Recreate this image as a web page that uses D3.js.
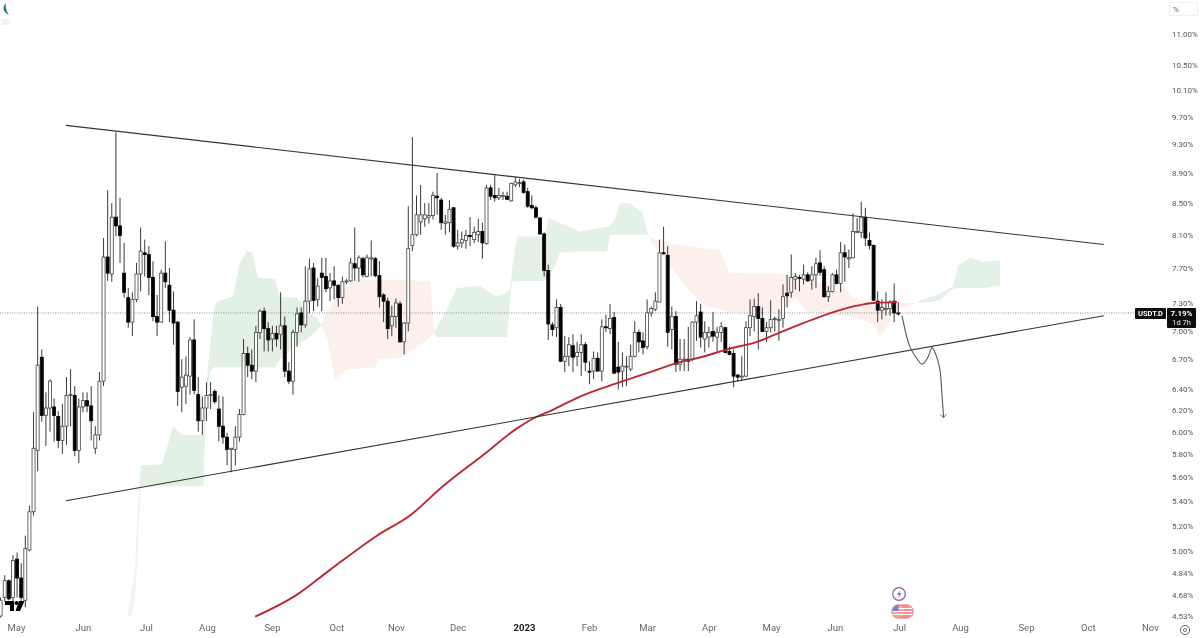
<!DOCTYPE html>
<html><head><meta charset="utf-8">
<script src="https://cdnjs.cloudflare.com/ajax/libs/d3/7.8.5/d3.min.js"></script>
<style>
html,body{margin:0;padding:0;background:#fff;overflow:hidden}
svg{display:block}
text{font-family:Roboto,"Open Sans",sans-serif}
</style></head><body>
<svg id="c" width="1200" height="638"></svg>
<script>
const highs=[4.66,4.82,4.79,4.97,4.99,4.91,5.12,5.36,6.18,7.26,
6.80,6.37,6.50,6.31,6.19,6.26,6.52,6.60,6.43,6.31,
6.37,6.37,6.43,6.05,6.57,8.06,8.67,8.50,9.47,8.57,
8.00,7.47,7.42,7.76,8.19,8.04,7.96,7.78,7.39,7.68,
8.02,7.70,7.43,7.10,6.70,6.73,6.93,7.12,6.52,6.33,
6.47,6.47,6.40,6.34,6.33,5.99,5.85,6.05,6.21,6.91,
6.83,6.80,7.05,7.23,7.25,7.09,7.05,7.05,7.42,7.15,
6.67,7.01,7.25,7.25,7.72,7.81,7.76,7.58,7.82,7.82,
7.64,7.72,7.51,7.60,7.57,7.82,8.19,7.85,7.83,7.86,
8.03,7.83,7.78,7.41,7.36,7.27,7.35,7.32,7.09,8.46,
9.40,8.60,8.74,8.50,8.50,8.65,8.90,8.57,8.35,8.54,
8.45,8.16,8.14,8.16,8.32,8.20,8.30,8.25,8.74,8.74,
8.87,8.70,8.65,8.65,8.77,8.85,8.82,8.81,8.70,8.60,
8.47,8.32,8.13,7.74,7.09,7.34,7.29,6.94,6.93,6.96,
6.88,6.96,6.88,6.68,6.78,6.77,7.12,7.17,7.29,7.20,
6.88,6.77,6.73,6.85,7.10,7.01,6.98,7.34,7.26,7.42,
8.04,8.20,7.96,7.26,7.21,6.91,6.91,7.04,7.10,7.32,
7.29,7.10,7.04,7.20,7.04,7.09,7.04,6.83,6.80,6.55,
6.73,7.10,7.34,7.35,7.41,7.25,7.09,7.33,7.15,7.23,
7.51,7.62,7.86,7.64,7.62,7.74,7.65,7.72,7.82,7.91,
7.72,7.49,7.64,7.68,8.01,7.98,7.92,8.37,8.31,8.52,
8.44,8.13,7.98,7.43,7.34,7.42,7.33,7.52,7.31];
const lows=[4.52,4.63,4.64,4.63,4.66,4.59,4.59,5.00,5.28,5.65,
6.09,5.87,6.00,5.91,5.85,5.80,5.88,6.05,5.78,5.72,
6.18,6.18,5.92,5.80,5.92,6.43,7.55,7.54,8.08,7.76,
7.36,7.03,6.94,7.31,7.43,7.60,7.39,7.10,6.94,7.09,
7.47,7.09,6.85,6.24,6.18,6.26,6.35,6.35,6.00,5.97,
6.10,6.21,6.26,5.91,5.89,5.70,5.64,5.70,5.91,6.15,
6.52,6.50,6.47,6.91,6.78,6.78,6.78,6.83,6.80,6.52,
6.45,6.35,6.83,6.98,7.03,7.19,7.21,7.26,7.21,7.42,
7.32,7.34,7.26,7.29,7.51,7.54,7.55,7.54,7.59,7.59,
7.60,7.59,7.25,7.09,6.91,6.94,7.03,6.87,6.75,6.99,
7.90,8.08,8.10,8.20,8.24,8.29,8.35,8.16,8.10,8.13,
7.94,7.92,7.94,7.93,7.96,8.00,8.01,7.81,7.98,8.54,
8.52,8.54,8.54,8.54,8.52,8.71,8.71,8.62,8.44,8.42,
8.31,8.10,7.60,6.90,6.94,6.93,6.67,6.57,6.63,6.57,
6.63,6.53,6.58,6.45,6.50,6.58,6.48,6.98,6.96,6.55,
6.40,6.42,6.43,6.58,6.72,6.77,6.75,6.80,7.15,7.21,
7.31,7.86,6.83,6.80,6.57,6.58,6.58,6.58,6.68,6.89,
6.82,6.77,6.82,6.88,6.78,6.88,6.76,6.74,6.42,6.48,
6.48,6.52,6.94,6.99,6.80,6.99,6.88,6.98,6.99,6.89,
7.03,7.25,7.36,7.45,7.43,7.51,7.54,7.45,7.47,7.61,
7.36,7.31,7.42,7.51,7.42,7.54,7.70,7.82,8.13,8.06,
7.96,7.92,7.32,7.09,7.12,7.16,7.16,7.09,7.16];
const opens=[4.53,4.66,4.78,4.66,4.94,4.80,4.64,5.01,5.31,5.83,
6.72,6.15,6.22,6.23,6.14,5.92,6.05,6.34,6.34,5.83,
6.23,6.29,6.24,5.85,5.97,6.48,7.83,7.63,8.32,8.21,
7.64,7.36,7.09,7.34,7.63,7.88,7.86,7.59,7.15,7.09,
7.64,7.50,7.22,7.09,6.42,6.43,6.53,6.90,6.35,6.10,
6.22,6.34,6.38,6.21,6.05,5.95,5.84,5.84,5.95,6.16,
6.76,6.64,6.58,6.98,7.21,7.02,6.91,6.97,6.96,7.05,
6.58,6.48,6.98,7.19,7.06,7.32,7.70,7.34,7.64,7.60,
7.47,7.55,7.50,7.36,7.54,7.55,7.75,7.70,7.81,7.60,
7.81,7.81,7.61,7.39,7.32,7.05,7.15,7.29,6.88,7.08,
7.97,8.10,8.26,8.30,8.32,8.34,8.59,8.54,8.24,8.25,
8.44,7.96,8.00,8.03,8.09,8.04,8.10,8.14,7.99,8.70,
8.60,8.57,8.59,8.59,8.53,8.74,8.76,8.78,8.65,8.47,
8.44,8.31,8.11,7.67,7.06,7.03,7.25,6.68,6.73,6.84,
6.73,6.77,6.85,6.58,6.58,6.71,6.58,7.04,7.02,7.14,
6.62,6.58,6.62,6.60,6.73,6.98,6.89,6.83,7.19,7.23,
7.31,7.88,7.85,7.01,7.15,6.65,6.69,6.70,6.70,7.09,
7.20,6.91,6.93,6.99,6.93,6.98,7.03,6.78,6.76,6.54,
6.52,6.53,7.03,7.15,7.26,7.13,6.99,7.03,7.12,7.11,
7.13,7.41,7.42,7.57,7.59,7.57,7.62,7.56,7.62,7.76,
7.68,7.37,7.43,7.62,7.52,7.88,7.82,7.82,8.14,8.13,
8.32,8.03,7.97,7.32,7.22,7.24,7.24,7.32,7.19];
const closes=[4.64,4.78,4.65,4.93,4.80,4.66,5.02,5.31,5.85,6.64,
6.15,6.22,6.48,6.15,5.92,6.05,6.34,6.35,5.83,6.23,
6.29,6.24,6.10,5.97,6.48,7.83,7.64,8.32,8.21,8.09,
7.42,7.09,7.34,7.63,7.90,7.86,7.59,7.15,7.09,7.64,
7.54,7.22,7.08,6.38,6.52,6.54,6.90,6.39,6.10,6.22,
6.34,6.35,6.28,6.05,5.95,5.84,5.85,5.95,6.16,6.76,
6.64,6.58,6.98,7.21,7.02,6.90,6.97,6.91,7.05,6.58,
6.48,6.98,7.18,7.06,7.32,7.69,7.33,7.49,7.59,7.46,
7.55,7.50,7.36,7.54,7.55,7.76,7.70,7.82,7.62,7.82,
7.82,7.61,7.37,7.32,7.02,7.15,7.30,6.88,7.08,7.93,
8.10,8.35,8.35,8.35,8.34,8.60,8.57,8.25,8.26,8.42,
7.96,8.00,8.04,8.09,8.08,8.13,8.14,8.00,8.70,8.59,
8.57,8.60,8.60,8.55,8.76,8.78,8.77,8.64,8.46,8.44,
8.32,8.11,7.67,7.07,7.01,7.25,6.68,6.73,6.85,6.72,
6.77,6.85,6.67,6.57,6.71,6.58,7.04,7.03,7.13,6.56,
6.57,6.63,6.63,6.73,6.98,6.88,6.82,7.19,7.24,7.32,
7.88,7.87,6.98,7.15,6.65,6.70,6.70,6.68,7.09,7.16,
6.93,6.98,6.98,6.94,6.98,7.04,6.77,6.75,6.53,6.52,
6.53,7.03,7.16,7.26,7.13,6.99,7.03,7.12,7.13,7.12,
7.37,7.38,7.59,7.60,7.58,7.62,7.55,7.62,7.75,7.65,
7.37,7.43,7.62,7.52,7.88,7.83,7.82,8.14,8.14,8.32,
8.06,7.97,7.33,7.22,7.25,7.24,7.31,7.19,7.18];

const maBars=[61.8,72,80,91.4,99.4,107.4,117.2,125.4,130.3,133.4,140.7,150.4,157.7,165,170,177.1,183.7,189.3,197.3,203.8,208,211.9,217.7];
const maValues=[4.525,4.68,4.86,5.12,5.28,5.52,5.79,6.03,6.14,6.19,6.33,6.47,6.57,6.67,6.72,6.81,6.88,6.98,7.12,7.22,7.27,7.30,7.31];

const cloudBars=[30.9,31.9,32.6,33.1,33.5,34.1,39.2,41.9,44.1,49.2,49.6,50.1,50.9,51.8,52.6,56.4,58.1,59.8,61.1,62.5,66.6,67.9,72,74.4,76.6,78,
79.3,81.2,84.1,86.6,91,91.7,97.7,103.8,104.3,105.3,
106,108.4,110.8,116.4,120.5,123,123.7,124.2,125.4,132.2,133,134.2,135.8,140.7,147.3,148,149.2,150.4,152.8,156,157.2,
158.2,160.1,162.6,165,167.4,171.5,174.7,177.1,189.3,191,193,195.8,204.6,207,210.4,211.9,213.6,215.5,216.7,222.5,
223.8,228.1,231.3,232.5,235.4,238.6,242.7];
const spanA=[4.54,4.73,4.87,5.18,5.45,5.70,5.71,6.05,5.97,5.97,6.17,6.50,6.85,7.23,7.32,7.37,7.76,7.90,7.88,7.59,7.57,7.37,7.36,7.21,7.14,7.06,
6.91,6.50,6.60,6.60,6.62,6.70,6.72,6.91,6.93,6.98,
7.04,7.23,7.47,7.49,7.37,7.42,7.45,7.68,8.08,8.08,8.31,8.28,8.25,8.14,8.20,8.21,8.29,8.50,8.50,8.37,8.10,
8.00,7.88,7.72,7.58,7.43,7.26,7.23,7.20,7.20,7.27,7.35,7.21,7.16,7.14,7.10,7.06,6.94,7.06,7.21,7.30,
7.34,7.40,7.49,7.72,7.82,7.77,7.79];
const spanB=[4.52,4.54,4.66,4.87,5.18,5.52,5.52,5.52,5.52,5.52,5.94,6.35,6.58,6.62,6.62,6.62,6.62,6.62,6.62,6.62,6.62,6.70,6.85,6.91,6.99,7.06,
7.20,7.36,7.49,7.57,7.56,7.56,7.56,7.55,7.55,6.98,
6.93,6.93,6.93,6.93,6.93,6.93,7.34,7.54,7.55,7.55,7.60,7.68,7.88,7.90,7.90,8.10,8.10,8.10,8.10,8.10,8.10,
8.05,8.03,7.99,7.97,7.96,7.93,7.92,7.64,7.63,7.62,7.59,7.56,7.49,7.36,7.31,7.31,7.30,7.30,7.30,7.30,
7.30,7.33,7.46,7.47,7.47,7.47,7.49];

const upperTrendBars=[15.88,267.9], upperTrendValues=[9.57,7.98];
const lowerTrendBars=[15.88,267.9], lowerTrendValues=[5.40,7.16];
const pathBars=[218.9,220.8,222.3,223.8,225.2,226.2,227.1,228.1,228.6,229];
const pathValues=[7.16,6.83,6.72,6.65,6.72,6.82,6.75,6.60,6.35,6.13];

const yTicks=[11.00,10.50,10.10,9.70,9.30,8.90,8.50,8.10,7.70,7.30,7.00,6.70,6.40,6.20,6.00,5.80,5.60,5.40,5.20,5.00,4.84,4.68,4.53];
const monthBars=[3.74,20,35.3,50.1,65.9,81.5,96,111,127.1,142.9,157,172,187.1,202.6,218.2,233,249,264,279.1];
const monthLabels=["May","Jun","Jul","Aug","Sep","Oct","Nov","Dec","2023","Feb","Mar","Apr","May","Jun","Jul","Aug","Sep","Oct","Nov"];
const lastValue=7.19, symbol="USDT.D", countdown="1d 7h";

const svg=d3.select("#c");
const defs=svg.append("defs");
defs.append("filter").attr("id","soft").attr("x",0).attr("y",0).attr("width",1).attr("height",1)
  .append("feGaussianBlur").attr("stdDeviation",0.42);
defs.append("marker").attr("id","chev").attr("viewBox","-5 -5 10 10").attr("markerWidth",8).attr("markerHeight",8)
  .attr("markerUnits","userSpaceOnUse").attr("orient","auto")
  .append("path").attr("d","M-4,-4L0,0L-4,4").attr("fill","none").attr("stroke","#555").attr("stroke-width",1);
const fade=defs.append("linearGradient").attr("id","fade").attr("gradientUnits","userSpaceOnUse").attr("x1",0).attr("x2",0).attr("y1",465).attr("y2",620);
fade.append("stop").attr("offset",0).attr("stop-color","#e3f0e4");
fade.append("stop").attr("offset",0.14).attr("stop-color","#e3f0e4");
fade.append("stop").attr("offset",0.16).attr("stop-color","#eef1ee");
fade.append("stop").attr("offset",1).attr("stop-color","#f3f4f3");

const root=svg.append("g").attr("filter","url(#soft)");
root.append("rect").attr("width",1200).attr("height",638).attr("fill","#fff");

const x=d3.scaleLinear().domain([0,218]).range([0.6,898.3]);
const y=d3.scaleLog().domain([11,4.53]).range([34,616]);

// Ichimoku cloud split at each twist
const cloudRows=cloudBars.map((b,i)=>({b,a:spanA[i],s:spanB[i]}));
const runs=[];let cur=null;
cloudRows.forEach(r=>{
  const sign=r.a>r.s?1:r.a<r.s?-1:0;
  if(!cur){cur={sign:sign||1,pts:[r]};runs.push(cur);return;}
  if(sign===0){cur.pts.push(r);cur={sign:null,pts:[r]};runs.push(cur);return;}
  if(cur.sign===null)cur.sign=sign;
  if(sign!==cur.sign){cur={sign,pts:[cur.pts[cur.pts.length-1],r]};runs.push(cur);return;}
  cur.pts.push(r);
});
const cloudArea=d3.area().x(d=>x(d.b)).y0(d=>y(d.a)).y1(d=>y(d.s));
root.append("g").selectAll("path").data(runs.filter(r=>r.pts.length>1)).join("path")
  .attr("d",r=>cloudArea(r.pts)).attr("fill",(r,i)=>i===0?"url(#fade)":r.sign>0?"#e4f1e6":"#fcefec");

// last-value line
root.append("line").attr("x1",0).attr("x2",1135).attr("y1",y(lastValue)).attr("y2",y(lastValue))
  .attr("stroke","#777").attr("stroke-width",0.8).attr("stroke-dasharray","1 1.4");

// candles
const candles=opens.map((o,i)=>({i,o,c:closes[i],h:highs[i],l:lows[i]}));
const cg=root.append("g");
cg.selectAll("line").data(candles).join("line")
  .attr("x1",d=>x(d.i)).attr("x2",d=>x(d.i)).attr("y1",d=>y(d.h)).attr("y2",d=>y(d.l))
  .attr("stroke","#3a3a3a").attr("stroke-width",1);
cg.selectAll("rect").data(candles).join("rect")
  .attr("x",d=>x(d.i)-1.5).attr("width",3)
  .attr("y",d=>y(Math.max(d.o,d.c))).attr("height",d=>Math.max(1,Math.abs(y(d.o)-y(d.c))))
  .attr("fill",d=>d.c>=d.o?"#fff":"#000").attr("stroke",d=>d.c>=d.o?"#444":"#000").attr("stroke-width",0.8);

// moving average
root.append("path").datum(maBars.map((b,i)=>[b,maValues[i]]))
  .attr("d",d3.line().x(d=>x(d[0])).y(d=>y(d[1])).curve(d3.curveMonotoneX))
  .attr("fill","none").attr("stroke","#bb2a30").attr("stroke-width",1.9);

// trend lines
const tl=d3.line().x(d=>x(d[0])).y(d=>y(d[1]));
[[upperTrendBars,upperTrendValues],[lowerTrendBars,lowerTrendValues]].forEach(([b,v])=>{
  root.append("path").datum(b.map((k,i)=>[k,v[i]])).attr("d",tl).attr("fill","none").attr("stroke","#333").attr("stroke-width",1.1);
});
// projected path
root.append("path").datum(pathBars.map((b,i)=>[b,pathValues[i]]))
  .attr("d",d3.line().x(d=>x(d[0])).y(d=>y(d[1])).curve(d3.curveCatmullRom))
  .attr("fill","none").attr("stroke","#555").attr("stroke-width",1.1).attr("marker-end","url(#chev)");

// axes
const yAxis=d3.axisRight(y).tickValues(yTicks).tickSize(0).tickPadding(0).tickFormat(d=>d.toFixed(2)+"%");
const ya=root.append("g").attr("transform","translate(1172,0)").call(yAxis);
ya.select(".domain").remove();
ya.selectAll("text").attr("font-size",8).attr("fill","#555").attr("font-family","Roboto,sans-serif");

const xAxis=d3.axisBottom(x).tickValues(monthBars).tickSize(0).tickPadding(0).tickFormat((d,i)=>monthLabels[i]);
const xa=root.append("g").attr("transform","translate(0,624)").call(xAxis);
xa.select(".domain").remove();
xa.selectAll("text").attr("font-size",9.5).attr("fill",(d,i)=>monthLabels[i]==="2023"?"#222":"#666")
  .attr("font-weight",(d,i)=>monthLabels[i]==="2023"?700:400).attr("font-family",'"Open Sans",sans-serif');

// price labels
const ly=y(lastValue);
root.append("rect").attr("x",1135).attr("y",ly-5).attr("width",31).attr("height",11).attr("rx",1).attr("fill","#0a0a0a");
root.append("text").attr("x",1150.5).attr("y",ly+3).attr("text-anchor","middle").attr("font-size",7.5).attr("font-weight",700).attr("fill","#fff").text(symbol);
root.append("rect").attr("x",1167).attr("y",ly-5).attr("width",29).attr("height",20).attr("rx",1).attr("fill","#0a0a0a");
root.append("text").attr("x",1181.5).attr("y",ly+3).attr("text-anchor","middle").attr("font-size",8).attr("font-weight",700).attr("fill","#fff").text(lastValue.toFixed(2)+"%");
root.append("text").attr("x",1181.5).attr("y",ly+12).attr("text-anchor","middle").attr("font-size",7.5).attr("fill","#eee").text(countdown);

// percent marker
root.append("rect").attr("x",1169.5).attr("y",2.5).attr("width",28).attr("height",13).attr("fill","none").attr("stroke","#f0f0f0");
root.append("text").attr("x",1173).attr("y",12).attr("font-size",8).attr("fill","#666").text("%");

// corner mark
root.append("path").attr("d","M6,3 C2,7 3,12 9,15 C6,11 5,7 6,3Z").attr("fill","#1f6f80");
root.append("rect").attr("x",2).attr("y",19).attr("width",8).attr("height",6).attr("fill","#f1f3f3");

// TradingView mark
const logo=root.append("g").attr("fill","#000");
logo.append("path").attr("d","M5,601 H14 V611 H10 V605 H5 Z");
logo.append("circle").attr("cx",16.5).attr("cy",603).attr("r",2);
logo.append("path").attr("d","M19,601 H24.5 L20,611 H15.5 Z");

// event icons
const ev=root.append("g");
ev.append("circle").attr("cx",899).attr("cy",594).attr("r",6.3).attr("fill","#fff").attr("stroke","#8a5aa8").attr("stroke-width",1.2);
ev.append("path").attr("d","M900.5,590 L897,594.8 H899.2 L898,598 L901.5,593.2 H899.3 Z").attr("fill","#8a5aa8");
[[906.5,"#f4a09c"],[902.5,"#f28f8c"]].forEach(([cx,f])=>{
  ev.append("circle").attr("cx",cx).attr("cy",611.5).attr("r",6.8).attr("fill",f).attr("stroke","#e57a78").attr("stroke-width",0.8);
});
ev.append("circle").attr("cx",898.5).attr("cy",611.5).attr("r",6.8).attr("fill","#f4a09c").attr("stroke","#e57a78").attr("stroke-width",0.8);
[608.5,611.5,614.5].forEach(sy=>ev.append("line").attr("x1",892.5).attr("x2",912).attr("y1",sy).attr("y2",sy).attr("stroke","#fff").attr("stroke-width",1));
ev.append("path").attr("d","M892,611 A6.8,6.8 0 0 1 898.5,604.8 V611 Z").attr("fill","#6f86c9");

// settings icon
root.append("circle").attr("cx",1185).attr("cy",630).attr("r",4.6).attr("fill","none").attr("stroke","#666").attr("stroke-width",1);
root.append("circle").attr("cx",1185).attr("cy",630).attr("r",1.6).attr("fill","none").attr("stroke","#666").attr("stroke-width",0.9);
</script>
</body></html>
